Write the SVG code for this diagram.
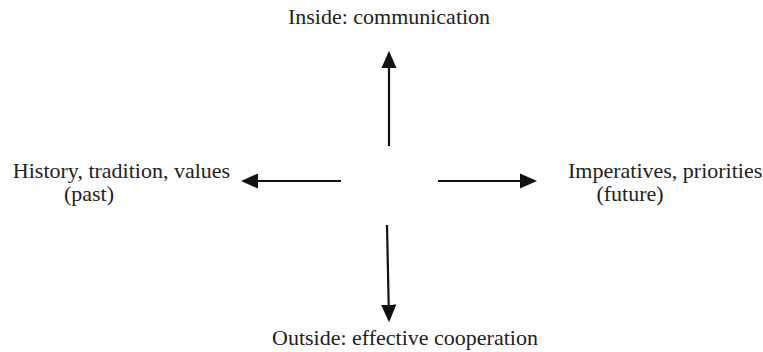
<svg xmlns="http://www.w3.org/2000/svg" width="763" height="352" viewBox="0 0 763 352">
<style>
text{font-family:"Liberation Serif","Times New Roman",serif;font-size:22px;fill:#222}
.c line{stroke:#111;stroke-width:2.2}
</style>
<defs>
<marker id="ah" markerWidth="8" markerHeight="7" refX="7" refY="3.5" orient="auto" markerUnits="strokeWidth" viewBox="0 0 8 7">
<path d="M0,0 L8,3.5 L0,7 Z" fill="#111"/>
</marker>
</defs>
<rect width="763" height="352" fill="#fff"/>
<g id="top"><text x="389" y="24" text-anchor="middle">Inside: communication</text></g>
<g id="left"><text x="121.5" y="178" text-anchor="middle">History, tradition, values</text><text x="89" y="201" text-anchor="middle">(past)</text></g>
<g id="right"><text x="568" y="178">Imperatives, priorities</text><text x="630" y="201" text-anchor="middle">(future)</text></g>
<g id="bottom"><text x="272" y="345">Outside: effective cooperation</text></g>
<g class="c" id="connectors">
<line x1="389" y1="146" x2="389" y2="53" marker-end="url(#ah)"/>
<line x1="341" y1="181" x2="243" y2="181" marker-end="url(#ah)"/>
<line x1="438" y1="181" x2="535" y2="181" marker-end="url(#ah)"/>
<line x1="387" y1="225" x2="389" y2="320" marker-end="url(#ah)"/>
</g>
</svg>
